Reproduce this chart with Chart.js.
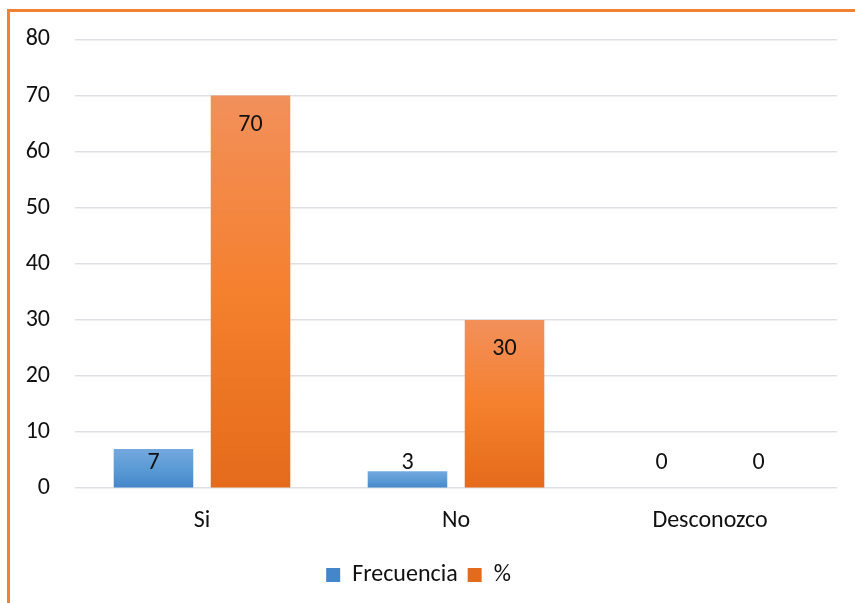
<!DOCTYPE html>
<html>
<head>
<meta charset="utf-8">
<script src="https://cdn.jsdelivr.net/npm/chart.js@4"></script>
<style>
  html, body { margin: 0; padding: 0; background: #fff; }
  #wrap { position: relative; width: 855px; height: 603px; overflow: hidden; }
  #frame { position: absolute; left: 7px; top: 9px; width: 900px; height: 700px;
           border-left: 3px solid #f08236; border-top: 3px solid #f08236; }
  canvas { position: absolute; left: 0; top: 0; }
</style>
</head>
<body>
<div id="wrap">
  <div id="frame"></div>
  <canvas id="chart" width="855" height="603"></canvas>
</div>
<script>
const categories = ['Si', 'No', 'Desconozco']
const frecuencia = [7, 3, 0]
const porcentaje = [70, 30, 0]
const seriesNames = ['Frecuencia', '%']

const fontFamily = 'Carlito, Lato, "Open Sans", sans-serif'
const fontSize = 24

const gradientFill = (stops, solid) => (ctx) => {
  const chart = ctx.chart
  const yScale = chart.scales.y
  if (!chart.chartArea || !yScale || ctx.raw == null) return solid
  const top = yScale.getPixelForValue(ctx.raw)
  const bottom = yScale.getPixelForValue(0)
  if (bottom - top < 1) return solid
  const g = chart.ctx.createLinearGradient(0, top, 0, bottom)
  stops.forEach(([p, c]) => g.addColorStop(p, c))
  return g
}

const blueStops = [[0, '#74a8de'], [0.5, '#5b9bd5'], [1, '#4486ca']]
const orangeStops = [[0, '#f2905b'], [0.5, '#f5802e'], [1, '#e46b1b']]

const valueLabels = {
  id: 'valueLabels',
  afterDatasetsDraw(chart) {
    const { ctx, chartArea } = chart
    ctx.save()
    ctx.font = fontSize + 'px ' + fontFamily
    ctx.fillStyle = '#111'
    ctx.textAlign = 'center'
    ctx.textBaseline = 'middle'
    chart.data.datasets.forEach((ds, i) => {
      chart.getDatasetMeta(i).data.forEach((bar, j) => {
        const y = Math.min(bar.y + 29, chartArea.bottom - 25)
        ctx.fillText(String(ds.data[j]), bar.x, y)
      })
    })
    ctx.restore()
  }
}

new Chart(document.getElementById('chart'), {
  type: 'bar',
  data: {
    labels: categories,
    datasets: [
      { label: seriesNames[0], data: frecuencia, backgroundColor: gradientFill(blueStops, '#5b9bd5') },
      { label: seriesNames[1], data: porcentaje, backgroundColor: gradientFill(orangeStops, '#f5802e') }
    ]
  },
  options: {
    responsive: false,
    animation: false,
    categoryPercentage: 0.764,
    barPercentage: 0.82,
    layout: { padding: { left: 0, right: 18, top: 34, bottom: 6 } },
    scales: {
      x: {
        grid: { display: false, drawTicks: false },
        border: { display: false },
        ticks: { color: '#111', padding: 18, font: { family: fontFamily, size: fontSize } }
      },
      y: {
        min: 0,
        max: 80,
        ticks: { stepSize: 10, color: '#111', padding: 25, font: { family: fontFamily, size: fontSize } },
        grid: { color: '#dde1e7', lineWidth: 1.5, drawTicks: false },
        border: { display: false },
        afterFit: (scale) => { scale.width = 75 }
      }
    },
    plugins: {
      legend: {
        position: 'bottom',
        labels: {
          color: '#111',
          boxWidth: 14,
          boxHeight: 14,
          padding: 10,
          font: { family: fontFamily, size: fontSize }
        }
      },
      tooltip: { enabled: false }
    }
  },
  plugins: [valueLabels]
})
</script>
</body>
</html>
